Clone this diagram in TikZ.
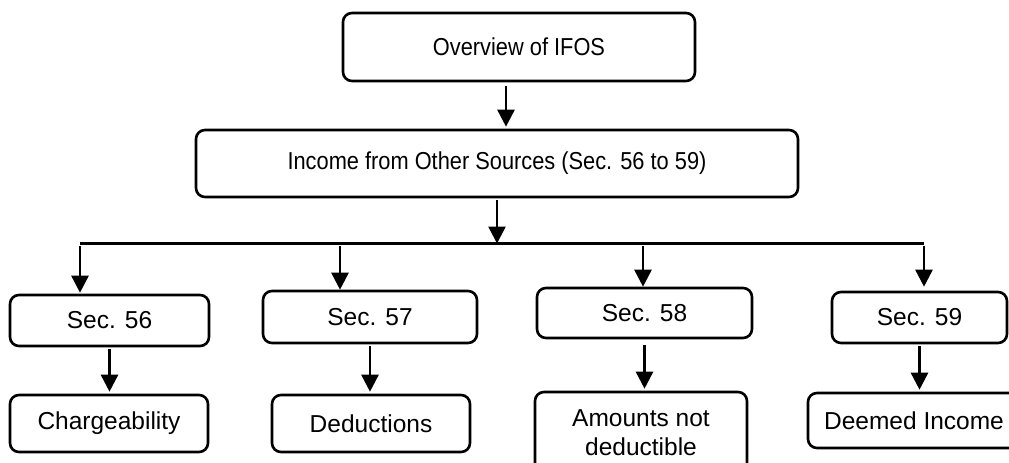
\documentclass[tikz,border=0pt]{standalone}
\usepackage{fontspec}
\setmainfont{Liberation Sans}
\newfontfamily\narrowsans{Liberation Sans}[FakeStretch=0.89]
\usetikzlibrary{arrows.meta}

\begin{document}
\begin{tikzpicture}[x=1pt,y=-1pt,
  box/.style={draw,line width=2.6pt,rounded corners=9pt,inner sep=0pt,align=center,
    font=\fontsize{24.5}{29}\selectfont},
  headbox/.style={box,font=\narrowsans\fontsize{24.5}{29}\selectfont},
  bus/.style={line width=2.6pt},
  arr/.style={line width=2.6pt,-{Triangle[length=17pt,width=17pt]},shorten >=2pt,shorten <=2pt}]
  \useasboundingbox (0,0) rectangle (1009,463);
  \clip (0,0) rectangle (1009,463);

  \node[headbox,minimum width=352pt,minimum height=68pt] (ifos) at (519,47) {Overview of IFOS};
  \node[headbox,minimum width=602pt,minimum height=67pt] (income) at (497,163.5) {Income from Other Sources (Sec. 56 to 59)};

  \node[box,minimum width=199pt,minimum height=51pt] (sec56) at (109.5,320.5) {Sec. 56};
  \node[box,minimum width=214pt,minimum height=52pt] (sec57) at (370,317) {Sec. 57};
  \node[box,minimum width=215pt,minimum height=50pt] (sec58) at (644.5,313) {Sec. 58};
  \node[box,minimum width=175pt,minimum height=51pt] (sec59) at (919.5,317.5) {Sec. 59};

  \node[box,minimum width=198pt,minimum height=57pt] (charge) at (109,423.5) {Chargeability};
  \node[box,minimum width=198pt,minimum height=57pt] (deduct) at (371,423.5) {Deductions};
  \node[box,minimum width=212pt,minimum height=82pt] (notded) at (641,433) {Amounts not\\deductible};
  \node[box,minimum width=212pt,minimum height=55pt] (deemed) at (914,420.5) {Deemed Income};

  \coordinate (b56) at (80,243.5);
  \coordinate (b57) at (340,243.5);
  \coordinate (b58) at (643,243.5);
  \coordinate (b59) at (924,243.5);

  \draw[arr,shorten <=4pt] ([xshift=-13pt]ifos.south) -- ([xshift=9pt]income.north);
  \draw[arr,shorten >=0pt] (income.south) -- (income.south |- b56);
  \draw[bus] (b56) -- (b59);
  \draw[arr,shorten >=1pt] (b56) -- (b56 |- sec56.north);
  \draw[arr,shorten >=0pt] (b57) -- (b57 |- sec57.north);
  \draw[arr,shorten >=0pt] (b58) -- (b58 |- sec58.north);
  \draw[arr,shorten >=4pt] (b59) -- (b59 |- sec59.north);

  \draw[arr] (sec56.south) -- (sec56.south |- charge.north);
  \draw[arr] (sec57.south) -- (sec57.south |- deduct.north);
  \draw[arr,shorten <=6pt] (sec58.south) -- (sec58.south |- notded.north);
  \draw[arr] (sec59.south) -- (sec59.south |- deemed.north);
\end{tikzpicture}
\end{document}
